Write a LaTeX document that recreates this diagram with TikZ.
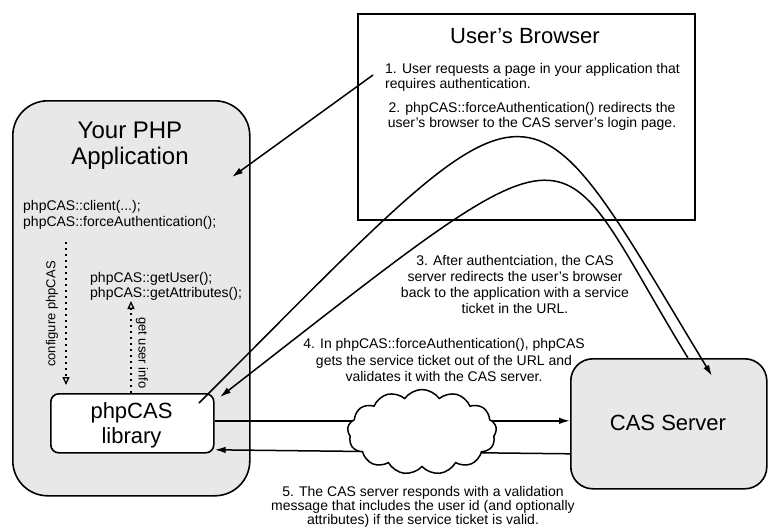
\documentclass[tikz,border=0pt]{standalone}
\usepackage{fontspec}
\setmainfont{Liberation Sans}
\usetikzlibrary{arrows.meta,shapes.symbols,calc}
\begin{document}
\begin{tikzpicture}[x=1pt,y=-1pt,
  box/.style={draw=black, line width=1.6pt, inner sep=0pt},
  graybox/.style={box, fill=gray!18},
  body/.style={font=\fontsize{14}{15.5}\selectfont, inner sep=0pt},
  code/.style={font=\fontsize{14}{16}\selectfont, inner sep=0pt},
  big/.style={font=\fontsize{22}{25}\selectfont, inner sep=0pt},
  huge/.style={font=\fontsize{24}{26}\selectfont, inner sep=0pt},
  small/.style={font=\fontsize{13}{15}\selectfont, inner sep=0pt},
  arr/.style={line width=1.5pt, -{Latex[length=11pt,width=6.5pt]}},
  dotarr/.style={line width=1.8pt, dash pattern=on 1.8pt off 4.2pt, -{Triangle[open,length=8pt,width=7pt,line width=1.3pt]}}
]
\useasboundingbox (0,0) rectangle (768,528);

% boxes
\node[graybox, rounded corners=35pt, minimum width=237pt, minimum height=395pt, anchor=north west] (app) at (12,100) {};
\node[box, fill=white, minimum width=337pt, minimum height=206pt, anchor=north west] (browser) at (357,13) {};
\node[graybox, rounded corners=22pt, minimum width=196pt, minimum height=130pt, anchor=north west] (cas) at (570,358) {};
\node[box, fill=white, rounded corners=8pt, minimum width=163pt, minimum height=59pt, anchor=north west] (lib) at (50,393) {};

% titles
\node[huge, anchor=base] (appt1) at (130,138) {Your PHP};
\node[huge, anchor=base] (appt2) at (130,164) {Application};
\node[big, anchor=base] (brt) at (525,43) {User's Browser};
\node[big, anchor=base] (cast) at (668,430) {CAS Server};
\node[big, anchor=base] (libt1) at (131.5,418) {phpCAS};
\node[big, anchor=base] (libt2) at (131.5,443) {library};

% code
\node[code, anchor=base west] (c1) at (23,210) {phpCAS::client(...);};
\node[code, anchor=base west] (c2) at (23,226) {phpCAS::forceAuthentication();};
\node[code, anchor=base west] (c3) at (90,282) {phpCAS::getUser();};
\node[code, anchor=base west] (c4) at (90,297) {phpCAS::getAttributes();};

% dotted arrows
\coordinate (cfgs) at (66,242);
\coordinate (cfge) at (66,385);
\draw[dotarr] (cfgs) -- (cfge);
\node[small, rotate=90] (cfgl) at (52,314) {configure phpCAS};
\coordinate (gus) at (131,393);
\coordinate (gue) at (131,301);
\draw[dotarr] (gus) -- (gue);
\node[small, rotate=-90] (gul) at (142,353) {get user info};

% step texts
\node[body, anchor=base west] (t1a) at (385,73) {1. User requests a page in your application that};
\node[body, anchor=base west] (t1b) at (385,88) {requires authentication.};
\node[body, anchor=base] (t2a) at (532,112) {2. phpCAS::forceAuthentication() redirects the};
\node[body, anchor=base] (t2b) at (532,127) {user's browser to the CAS server's login page.};
\node[body, anchor=base] (t3a) at (515,265) {3. After authentciation, the CAS};
\node[body, anchor=base] (t3b) at (515,281) {server redirects the user's browser};
\node[body, anchor=base] (t3c) at (515,297) {back to the application with a service};
\node[body, anchor=base] (t3d) at (515,313) {ticket in the URL.};
\node[body, anchor=base] (t4a) at (444,348) {4. In phpCAS::forceAuthentication(), phpCAS};
\node[body, anchor=base] (t4b) at (444,365) {gets the service ticket out of the URL and};
\node[body, anchor=base] (t4c) at (444,381) {validates it with the CAS server.};
\node[body, anchor=base] (t5a) at (423,496) {5. The CAS server responds with a validation};
\node[body, anchor=base] (t5b) at (423,510) {message that includes the user id (and optionally};
\node[body, anchor=base] (t5c) at (423,524) {attributes) if the service ticket is valid.};

% step 1 arrow
\coordinate (a1s) at (373,75);
\coordinate (a1e) at (232,177);
\draw[arr] (a1s) -- (a1e);

% step 2 and 3 curves
\coordinate (s2) at (199,403);
\coordinate (e2) at (712,376);
\draw[arr] (s2) .. controls (548,54) and (517,54) .. (e2);
\coordinate (s3) at (688,358);
\coordinate (e3) at (220,397);
\draw[arr] (s3) .. controls (547,128) and (598,103) .. (e3);

% validation lines and cloud
\draw[arr] ([yshift=2.5pt]lib.east) -- ([yshift=2.5pt]lib.east -| cas.west);
\draw[arr] ([yshift=-30pt]cas.west) -- ([yshift=-26.5pt]lib.east);
\node[cloud, draw, fill=white, line width=1.5pt, cloud puffs=13, cloud puff arc=110, aspect=1.75, minimum width=149pt, minimum height=85pt] (net) at (422,432) {};
\end{tikzpicture}
\end{document}
